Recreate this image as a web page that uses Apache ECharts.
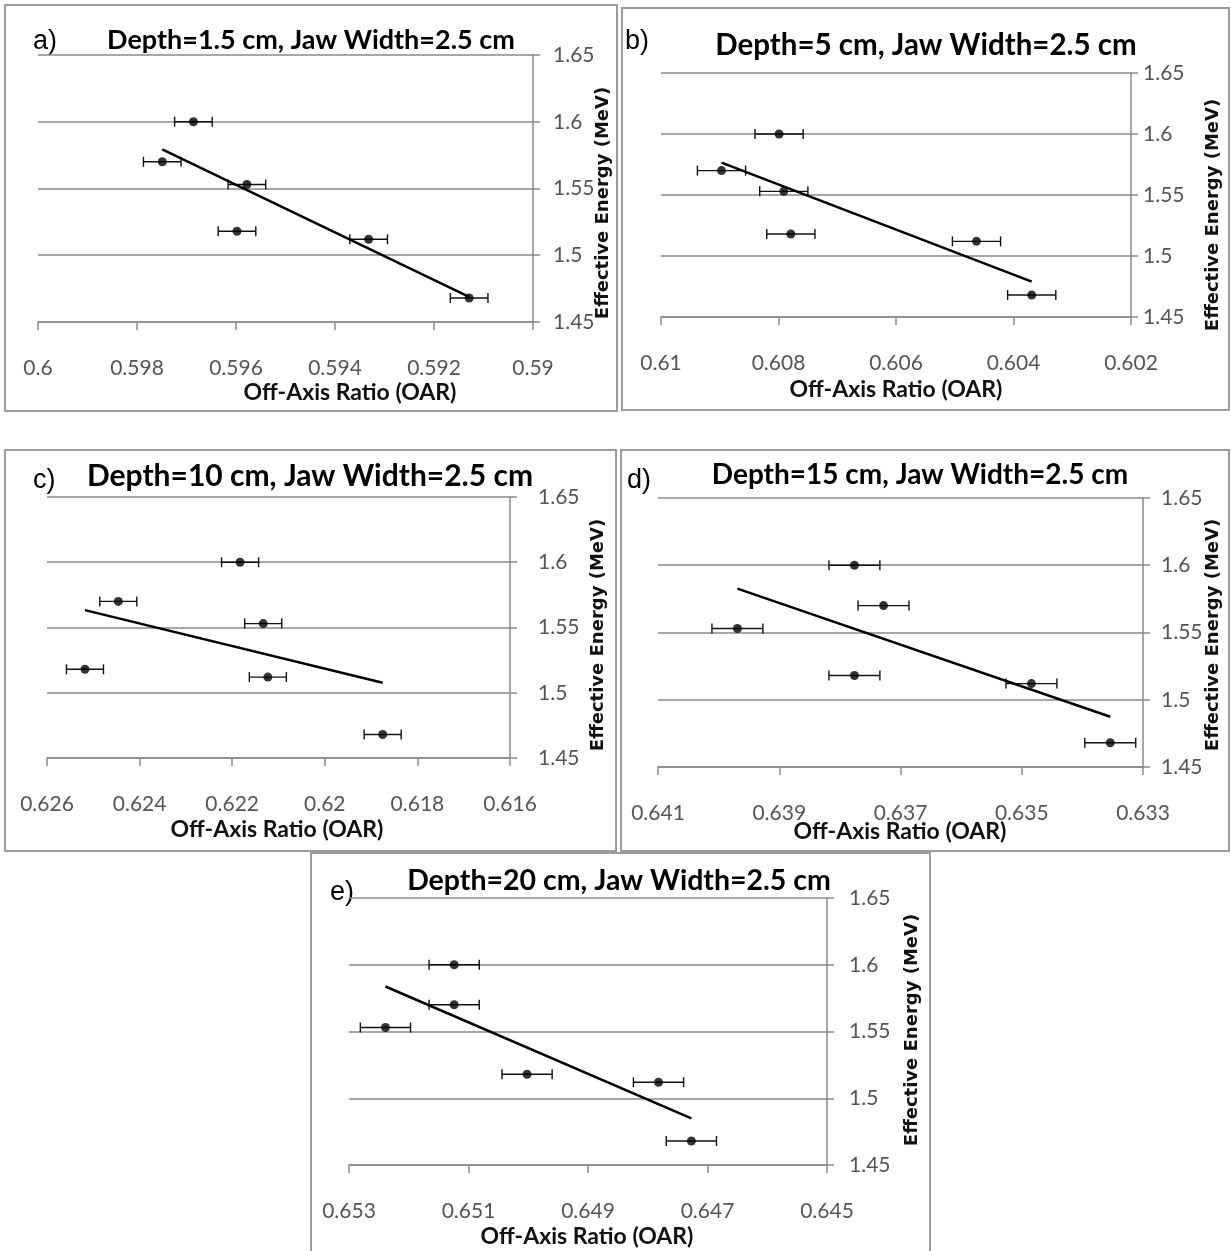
<!DOCTYPE html>
<html><head><meta charset="utf-8">
<script src="https://cdn.jsdelivr.net/npm/echarts@6/dist/echarts.min.js"></script>
<style>html,body{margin:0;padding:0;background:#fff}#c{width:1231px;height:1251px}</style>
</head><body><div id="c"></div><script>
// Shared effective energies (MeV)
const energy = [1.600, 1.570, 1.553, 1.518, 1.512, 1.468];
// Off-axis ratios per panel (same order as energy)
const oarA = [0.59686, 0.59749, 0.59578, 0.59598, 0.59332, 0.59129];
const oarB = [0.60799, 0.60897, 0.60791, 0.60779, 0.60463, 0.60369];
const oarC = [0.62183, 0.62446, 0.62133, 0.62518, 0.62123, 0.61875];
const oarD = [0.63776, 0.63728, 0.63969, 0.63776, 0.63484, 0.63354];
const oarE = [0.65124, 0.65124, 0.65239, 0.65002, 0.64782, 0.64727];
// OAR error half-widths
const errOar = [0.00038, 0.00041, 0.00040, 0.00042, 0.00042];
// Trend line endpoints
const trendOarA = [0.59749, 0.59129], trendEnA = [1.5793, 1.4688];
const trendOarB = [0.60897, 0.60369], trendEnB = [1.5765, 1.4790];
const trendOarC = [0.62518, 0.61875], trendEnC = [1.5633, 1.5076];
const trendOarD = [0.63969, 0.63354], trendEnD = [1.5826, 1.4874];
const trendOarE = [0.65239, 0.64727], trendEnE = [1.5837, 1.4849];
// Axis ranges
const xMins = [0.590, 0.602, 0.616, 0.633, 0.645];
const xMaxs = [0.600, 0.610, 0.626, 0.641, 0.653];
const yTickVals = [1.45, 1.5, 1.55, 1.6, 1.65];
const titles = ['Depth=1.5 cm, Jaw Width=2.5 cm', 'Depth=5 cm, Jaw Width=2.5 cm',
  'Depth=10 cm, Jaw Width=2.5 cm', 'Depth=15 cm, Jaw Width=2.5 cm', 'Depth=20 cm, Jaw Width=2.5 cm'];
const letters = ['a)', 'b)', 'c)', 'd)', 'e)'];
const xTitle = 'Off-Axis Ratio (OAR)';
const yTitle = 'Effective Energy (MeV)';

const oars = [oarA, oarB, oarC, oarD, oarE];
const trendOars = [trendOarA, trendOarB, trendOarC, trendOarD, trendOarE];
const trendEns = [trendEnA, trendEnB, trendEnC, trendEnD, trendEnE];

// Layout
const grids = [
  {left: 38, top: 55, width: 495, height: 267},
  {left: 661, top: 73, width: 470, height: 244},
  {left: 47, top: 497, width: 463, height: 261},
  {left: 658, top: 498, width: 485, height: 269},
  {left: 349, top: 898, width: 478, height: 267}
];
const yLabelMargins = [20, 12, 28, 18, 22];
const frames = [[5,5,612,406],[622,8,607,402],[5,450,611,401],[621,450,608,401],[311,853,619,400]];
const titlePos = [[311,40],[926,45],[310,476],[920,475],[619,881]];
const titleSizes = [27, 29.5, 30, 28, 28.5];
const letterPos = [[33,42],[625,42],[33,481],[627,481],[330,893]];
const xTitlePos = [[350,393],[896,390],[277,830],[900,832],[587,1237]];
const yTitlePos = [[603,203],[1213,215],[598,635],[1213,635],[912,1030]];

const gridColor = '#8a8a8a';
const fmt = v => parseFloat(v.toFixed(4)).toString();

const option = {
  animation: false,
  backgroundColor: '#fff',
  grid: grids.map(g => Object.assign({containLabel: false}, g)),
  xAxis: grids.map((g, i) => ({
    gridIndex: i, type: 'value', inverse: true,
    min: xMins[i], max: xMaxs[i], interval: 0.002,
    axisLine: {show: true, onZero: false, lineStyle: {color: gridColor, width: 1.5}},
    axisTick: {show: true, length: 8, lineStyle: {color: gridColor, width: 1.5}},
    axisLabel: {margin: 36, formatter: fmt, color: '#555', fontSize: 21, fontFamily: 'Lato'},
    splitLine: {show: false}
  })),
  yAxis: grids.map((g, i) => ({
    gridIndex: i, type: 'value', position: 'right',
    min: 1.45, max: 1.65, interval: 0.05,
    axisLine: {show: true, lineStyle: {color: gridColor, width: 1.5}},
    axisTick: {show: true, length: 7, lineStyle: {color: gridColor, width: 1.5}},
    axisLabel: {margin: yLabelMargins[i], formatter: fmt, color: '#555', fontSize: 21, fontFamily: 'Lato'},
    splitLine: {show: true, lineStyle: {color: gridColor, width: 1.5}}
  })),
  series: [],
  graphic: []
};

oars.forEach((oar, i) => {
  option.series.push({
    type: 'custom', xAxisIndex: i, yAxisIndex: i, z: 3,
    data: oar.map((v, k) => [v, energy[k], errOar[i]]),
    renderItem: (params, api) => {
      const x = api.value(0), y = api.value(1), e = api.value(2);
      const p1 = api.coord([x - e, y]), p2 = api.coord([x + e, y]);
      const cap = 5, st = {stroke: '#111', lineWidth: 1.4};
      return {type: 'group', children: [
        {type: 'line', shape: {x1: p1[0], y1: p1[1], x2: p2[0], y2: p2[1]}, style: st},
        {type: 'line', shape: {x1: p1[0], y1: p1[1]-cap, x2: p1[0], y2: p1[1]+cap}, style: st},
        {type: 'line', shape: {x1: p2[0], y1: p2[1]-cap, x2: p2[0], y2: p2[1]+cap}, style: st}
      ]};
    }
  });
  option.series.push({
    type: 'scatter', xAxisIndex: i, yAxisIndex: i, z: 4,
    symbol: 'circle', symbolSize: 9,
    itemStyle: {color: '#000'},
    data: oar.map((v, k) => [v, energy[k]])
  });
  option.series.push({
    type: 'line', xAxisIndex: i, yAxisIndex: i, z: 5,
    showSymbol: false, symbol: 'none',
    lineStyle: {color: '#000', width: 2.5},
    data: trendOars[i].map((v, k) => [v, trendEns[i][k]])
  });
  const f = frames[i];
  option.graphic.push({type: 'rect', shape: {x: f[0], y: f[1], width: f[2], height: f[3]},
    style: {fill: 'none', stroke: '#9c9c9c', lineWidth: 2}, z: 0});
  option.graphic.push({type: 'text', x: titlePos[i][0], y: titlePos[i][1],
    style: {text: titles[i], font: 'bold ' + titleSizes[i] + 'px Lato', fill: '#000', align: 'center', verticalAlign: 'middle'}});
  option.graphic.push({type: 'text', x: letterPos[i][0], y: letterPos[i][1],
    style: {text: letters[i], font: '27px "Liberation Sans"', fill: '#000', align: 'left', verticalAlign: 'middle'}});
  option.graphic.push({type: 'text', x: xTitlePos[i][0], y: xTitlePos[i][1],
    style: {text: xTitle, font: 'bold 23px Lato', fill: '#111', align: 'center', verticalAlign: 'middle'}});
  option.graphic.push({type: 'text', x: yTitlePos[i][0], y: yTitlePos[i][1], rotation: Math.PI / 2,
    style: {text: yTitle, font: 'bold 18px "DejaVu Sans"', fill: '#111', align: 'center', verticalAlign: 'middle'}});
});

const chart = echarts.init(document.getElementById('c'), null, {renderer: 'canvas'});
chart.setOption(option);
</script></body></html>
